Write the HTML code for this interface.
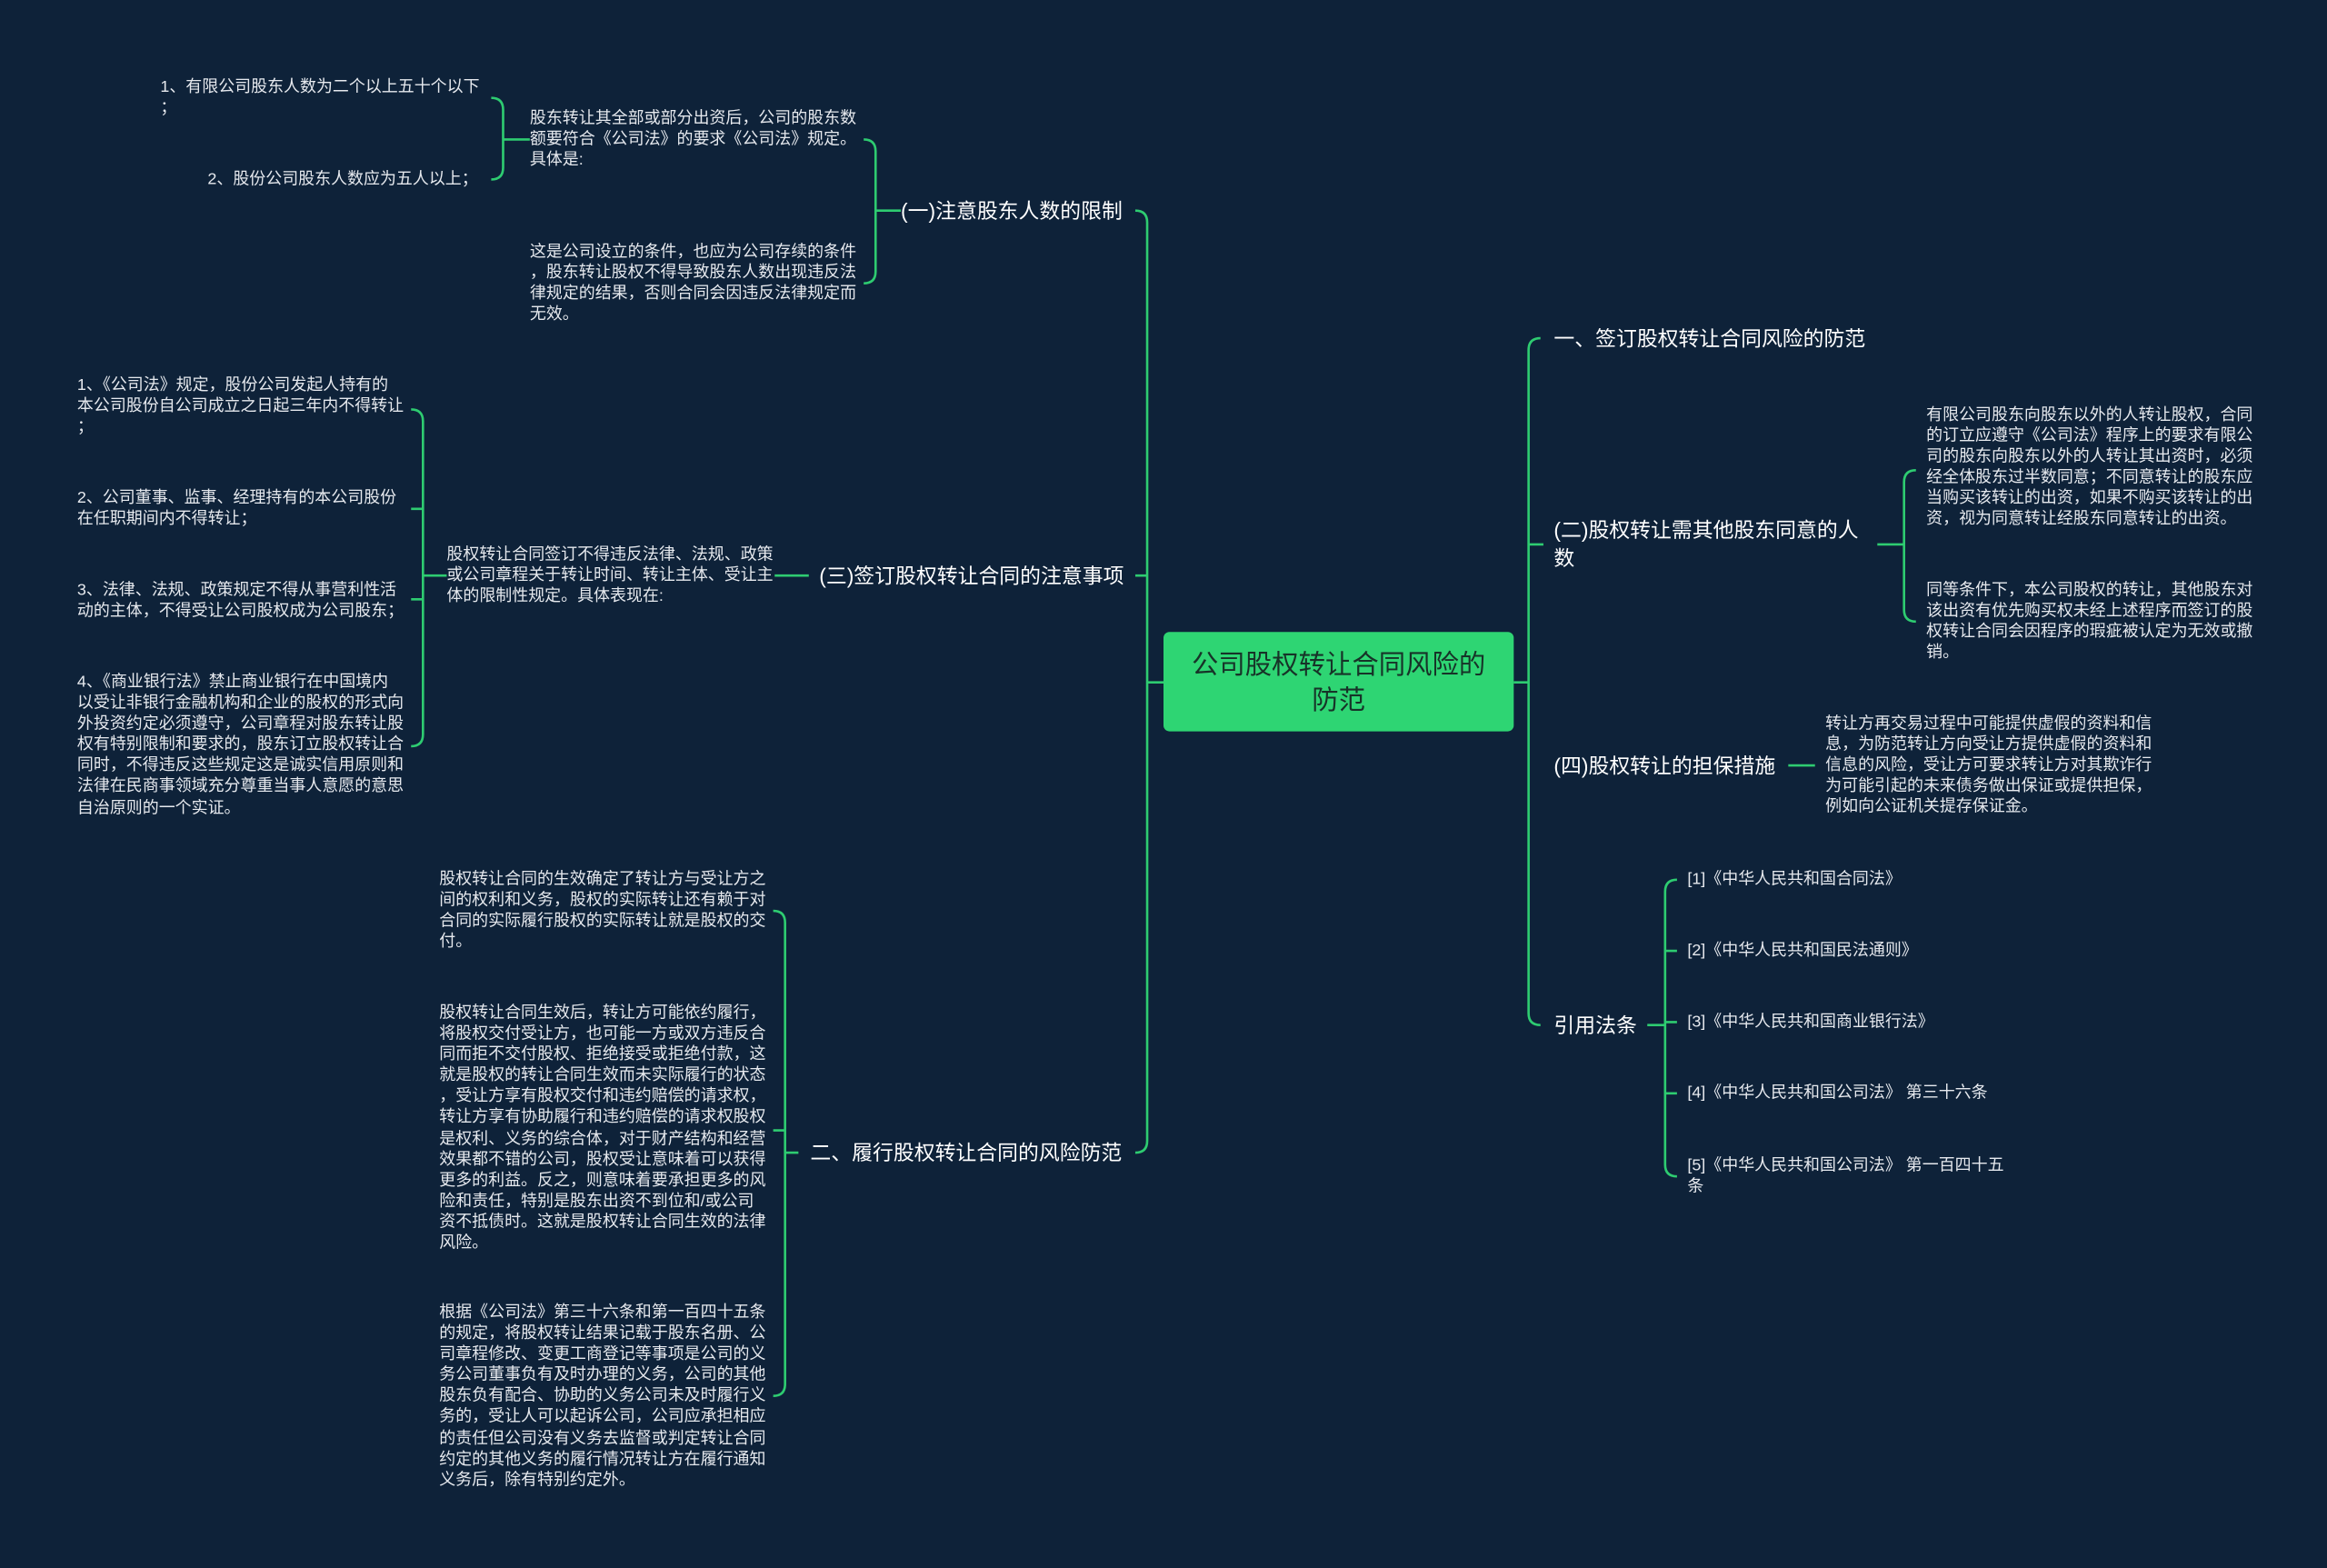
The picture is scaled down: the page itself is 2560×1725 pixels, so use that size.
<!DOCTYPE html>
<html><head><meta charset="utf-8">
<style>
html,body{margin:0;padding:0;background:#0e2239;width:2560px;height:1725px;overflow:hidden}
#s{position:absolute;left:0;top:0;width:1568px;height:1057px;transform:scale(1.63265,1.63198);transform-origin:0 0;font-family:"Liberation Sans","Noto Sans CJK SC",sans-serif}
.t{position:absolute;font-size:11px;line-height:14.1px;color:#e6e9ee;white-space:pre}
.b{position:absolute;font-size:14px;line-height:19px;color:#ffffff;white-space:pre}
.r{text-align:right}
#root{position:absolute;left:784px;top:426px;width:236px;height:67px;background:#2ed573;border-radius:4px;color:#173328;font-size:18px;line-height:24px;text-align:center;display:flex;align-items:center;justify-content:center}
svg{position:absolute;left:0;top:0}
</style></head><body><div id="s">
<svg width="1568" height="1057" fill="none" stroke="#2ecc71" stroke-width="1.6">
<!-- root connectors -->
<path d="M773 460 H784 M1020 460 H1030"/>
<!-- left trunk -->
<path d="M765 142 Q773 142 773 150 V769 Q773 777 765 777 M765 388 H773"/>
<!-- right trunk -->
<path d="M1038 228 Q1030 228 1030 236 V683 Q1030 691 1038 691 M1030 367 H1040"/>
<!-- (一) -->
<path d="M607 142 H590 M582 94 Q590 94 590 102 V183 Q590 191 582 191"/>
<path d="M357 94 H339 M331 66 Q339 66 339 74 V113 Q339 121 331 121"/>
<!-- (三) -->
<path d="M545 388 H522 M301 388 H285 M277 276 Q285 276 285 284 V495 Q285 503 277 503 M277 343 H285 M277 404 H285"/>
<!-- 二 -->
<path d="M538 777 H529 M521 614 Q529 614 529 622 V933 Q529 941 521 941 M521 762 H529"/>
<!-- (二) -->
<path d="M1265 367 H1283 M1291 317 Q1283 317 1283 325 V411 Q1283 419 1291 419"/>
<!-- (四) -->
<path d="M1205 516 H1223"/>
<!-- 引用法条 -->
<path d="M1110 691 H1122 M1130 593 Q1122 593 1122 601 V785 Q1122 793 1130 793 M1122 641 H1130 M1122 689 H1130 M1122 737 H1130"/>
</svg>

<div id="root">公司股权转让合同风险的<br>防范</div>

<div class="b" style="left:607px;top:133px">(一)注意股东人数的限制</div>
<div class="b" style="left:552px;top:379px">(三)签订股权转让合同的注意事项</div>
<div class="b" style="left:546px;top:768px">二、履行股权转让合同的风险防范</div>

<div class="b" style="left:1047px;top:219px">一、签订股权转让合同风险的防范</div>
<div class="b" style="left:1047px;top:348px">(二)股权转让需其他股东同意的人
数</div>
<div class="b" style="left:1047px;top:507px">(四)股权转让的担保措施</div>
<div class="b" style="left:1047px;top:682px">引用法条</div>

<div class="t" style="left:357px;top:73px">股东转让其全部或部分出资后，公司的股东数
额要符合《公司法》的要求《公司法》规定。
具体是:</div>
<div class="t" style="left:357px;top:163px">这是公司设立的条件，也应为公司存续的条件
，股东转让股权不得导致股东人数出现违反法
律规定的结果，否则合同会因违反法律规定而
无效。</div>
<div class="t" style="left:108px;top:52px">1、有限公司股东人数为二个以上五十个以下
；</div>
<div class="t r" style="left:100px;width:222px;top:114px">2、股份公司股东人数应为五人以上；</div>

<div class="t" style="left:301px;top:367px">股权转让合同签订不得违反法律、法规、政策
或公司章程关于转让时间、转让主体、受让主
体的限制性规定。具体表现在:</div>
<div class="t" style="left:52px;top:253px">1、《公司法》规定，股份公司发起人持有的
本公司股份自公司成立之日起三年内不得转让
；</div>
<div class="t" style="left:52px;top:329px">2、公司董事、监事、经理持有的本公司股份
在任职期间内不得转让；</div>
<div class="t" style="left:52px;top:391px">3、法律、法规、政策规定不得从事营利性活
动的主体，不得受让公司股权成为公司股东；</div>
<div class="t" style="left:52px;top:453px">4、《商业银行法》禁止商业银行在中国境内
以受让非银行金融机构和企业的股权的形式向
外投资约定必须遵守，公司章程对股东转让股
权有特别限制和要求的，股东订立股权转让合
同时，不得违反这些规定这是诚实信用原则和
法律在民商事领域充分尊重当事人意愿的意思
自治原则的一个实证。</div>

<div class="t" style="left:296px;top:586px">股权转让合同的生效确定了转让方与受让方之
间的权利和义务，股权的实际转让还有赖于对
合同的实际履行股权的实际转让就是股权的交
付。</div>
<div class="t" style="left:296px;top:676px">股权转让合同生效后，转让方可能依约履行，
将股权交付受让方，也可能一方或双方违反合
同而拒不交付股权、拒绝接受或拒绝付款，这
就是股权的转让合同生效而未实际履行的状态
，受让方享有股权交付和违约赔偿的请求权，
转让方享有协助履行和违约赔偿的请求权股权
是权利、义务的综合体，对于财产结构和经营
效果都不错的公司，股权受让意味着可以获得
更多的利益。反之，则意味着要承担更多的风
险和责任，特别是股东出资不到位和/或公司
资不抵债时。这就是股权转让合同生效的法律
风险。</div>
<div class="t" style="left:296px;top:878px">根据《公司法》第三十六条和第一百四十五条
的规定，将股权转让结果记载于股东名册、公
司章程修改、变更工商登记等事项是公司的义
务公司董事负有及时办理的义务，公司的其他
股东负有配合、协助的义务公司未及时履行义
务的，受让人可以起诉公司，公司应承担相应
的责任但公司没有义务去监督或判定转让合同
约定的其他义务的履行情况转让方在履行通知
义务后，除有特别约定外。</div>

<div class="t" style="left:1298px;top:273px">有限公司股东向股东以外的人转让股权，合同
的订立应遵守《公司法》程序上的要求有限公
司的股东向股东以外的人转让其出资时，必须
经全体股东过半数同意；不同意转让的股东应
当购买该转让的出资，如果不购买该转让的出
资，视为同意转让经股东同意转让的出资。</div>
<div class="t" style="left:1298px;top:391px">同等条件下，本公司股权的转让，其他股东对
该出资有优先购买权未经上述程序而签订的股
权转让合同会因程序的瑕疵被认定为无效或撤
销。</div>
<div class="t" style="left:1230px;top:481px">转让方再交易过程中可能提供虚假的资料和信
息，为防范转让方向受让方提供虚假的资料和
信息的风险，受让方可要求转让方对其欺诈行
为可能引起的未来债务做出保证或提供担保，
例如向公证机关提存保证金。</div>

<div class="t" style="left:1137px;top:586px">[1]《中华人民共和国合同法》</div>
<div class="t" style="left:1137px;top:634px">[2]《中华人民共和国民法通则》</div>
<div class="t" style="left:1137px;top:682px">[3]《中华人民共和国商业银行法》</div>
<div class="t" style="left:1137px;top:730px">[4]《中华人民共和国公司法》 第三十六条</div>
<div class="t" style="left:1137px;top:779px">[5]《中华人民共和国公司法》 第一百四十五
条</div>
</div></body></html>
